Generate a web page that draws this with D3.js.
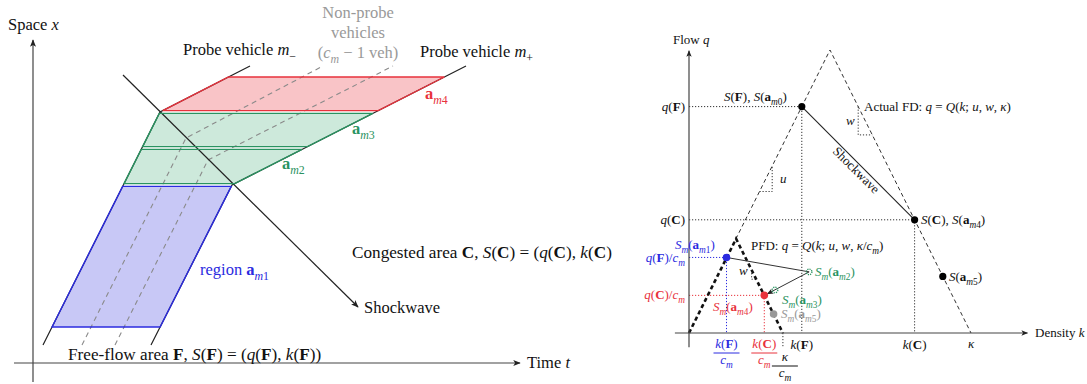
<!DOCTYPE html>
<html><head><meta charset="utf-8">
<script src="https://cdn.jsdelivr.net/npm/d3@7/dist/d3.min.js"></script>
<style>body{margin:0;background:#fff}svg{display:block}text{white-space:pre}</style>
</head><body>
<svg id="c" width="1087" height="384"></svg>
<script>
// ---------- DATA (left: time-space diagram, model units t / x) ----------
const probeMinus = [[10,18],[127,251],[217,297]];
const probePlus  = [[118,18],[199,178],[433,297]];
const nonProbe1  = [[49,18],[153,225],[290,297]];
const nonProbe2  = [[82,18],[175,203],[360,297]];
const shockwave  = [[90,288],[325,56]];
const regionLevels = [36,178,215,251,286];
const regionNames  = ["a1","a2","a3","a4"];
// ---------- DATA (right: fundamental diagram, k / q normalised) ----------
const actualFD = [[0,0],[0.5,1],[1,0]];
const probeFD  = [[0,0],[0.167,0.333],[0.333,0]];
const stateK   = [0.4,0.8,0.9];          // S(F), S(C), S(a_m5)
const stateQ   = [0.8,0.4,0.2];
const probeK   = [0.133,0.426,0.305,0.267,0.3];   // S_m(a_m1..a_m5)
const probeQ   = [0.267,0.216,0.152,0.133,0.067];
const slopeU   = [[0.25,0.5],[0.295,0.5],[0.295,0.59]];
const slopeW   = [[0.6,0.8],[0.6,0.7],[0.65,0.7]];
const slopeWm  = [[0.222,0.222],[0.222,0.19],[0.238,0.19]];

const FONT = "'Liberation Serif','Times New Roman',serif";
const RED='#e8323c', GREEN='#2a9361', BLUE='#2b2be0', GREY='#999';
const svg = d3.select('#c');

const defs = svg.append('defs');
function marker(id, color, size){
  defs.append('marker').attr('id',id).attr('viewBox','-1 -5 12 10')
    .attr('refX',9).attr('refY',0).attr('markerWidth',size).attr('markerHeight',size)
    .attr('markerUnits','userSpaceOnUse').attr('orient','auto')
    .append('path').attr('d','M0,-4 L10,0 L0,4 L2.5,0 Z').attr('fill',color);
}
marker('arr','#222',9); marker('arrS','#222',8);
defs.append('clipPath').attr('id','clipL').append('rect').attr('x',0).attr('y',0).attr('width',612).attr('height',384);

// rich text: *italic*  #bold#  _{sub}
function rich(g, str, x, y, fs, color, anchor){
  const t = g.append('text').attr('x',x).attr('y',y).attr('font-family',FONT)
    .attr('font-size',fs).attr('fill',color||'#111').attr('text-anchor',anchor||'start');
  const segs=[]; let st={i:false,b:false,s:false}, buf='';
  const push=()=>{ if(buf) segs.push({txt:buf,...st}); buf=''; };
  for(let k=0;k<str.length;k++){
    const ch=str[k];
    if(ch==='*'){push(); st.i=!st.i;}
    else if(ch==='#'){push(); st.b=!st.b;}
    else if(ch==='_'&&str[k+1]==='{'){push(); st.s=true; k++;}
    else if(ch==='}'&&st.s){push(); st.s=false;}
    else buf+=ch;
  }
  push();
  let prevSub=false;
  segs.forEach(s=>{
    const sp=t.append('tspan').text(s.txt)
      .attr('font-style',s.i?'italic':'normal').attr('font-weight',s.b?'bold':'normal')
      .attr('font-size',s.s?fs*0.72:fs);
    if(s.s&&!prevSub) sp.attr('dy',fs*0.28);
    if(!s.s&&prevSub) sp.attr('dy',-fs*0.28);
    prevSub=s.s;
  });
  return t;
}

// ================= LEFT =================
const tS = d3.scaleLinear().domain([0,487]).range([33,520]);
const xS = d3.scaleLinear().domain([0,323]).range([363,40]);
const L = svg.append('g').attr('clip-path','url(#clipL)');
const line = d3.line().x(d=>tS(d[0])).y(d=>xS(d[1]));
function tAt(poly,x){
  for(let i=0;i<poly.length-1;i++){
    const a=poly[i],b=poly[i+1];
    if(x>=a[1]&&x<=b[1]) return a[0]+(b[0]-a[0])*(x-a[1])/(b[1]-a[1]);
  }
  return poly[poly.length-1][0];
}
const fills={a1:'#c8c8f6',a2:'#cde9db',a3:'#cde9db',a4:'#f9c4c7'};
const strokes={a1:BLUE,a2:GREEN,a3:GREEN,a4:RED};
const gap=1.4;
const regions = regionNames.map((n,i)=>{
  const lo=regionLevels[i]+(i>0?gap:0), hi=regionLevels[i+1]-(i<regionNames.length-1?gap:0);
  return {n, pts:[[tAt(probeMinus,lo),lo],[tAt(probePlus,lo),lo],[tAt(probePlus,hi),hi],[tAt(probeMinus,hi),hi]]};
});
L.selectAll('path.rf').data(regions).join('path').attr('class','rf')
  .attr('d',d=>line(d.pts)+'Z').attr('fill',d=>fills[d.n]).attr('stroke','none');
[nonProbe1,nonProbe2].forEach(p=>L.append('path').attr('d',line(p)).attr('fill','none')
  .attr('stroke','#8a8a8a').attr('stroke-width',1.1).attr('stroke-dasharray','5,4'));
L.append('path').attr('d',line(shockwave)).attr('stroke','#222').attr('stroke-width',1.2)
  .attr('fill','none').attr('marker-end','url(#arr)');
[probeMinus,probePlus].forEach(p=>L.append('path').attr('d',line(p)).attr('fill','none')
  .attr('stroke','#222').attr('stroke-width',1.2));
L.selectAll('path.rs').data(regions).join('path').attr('class','rs')
  .attr('d',d=>line(d.pts)+'Z').attr('fill','none').attr('stroke',d=>strokes[d.n]).attr('stroke-width',1.4);
// axes
L.append('line').attr('x1',tS(0)).attr('y1',xS(-19)).attr('x2',tS(0)).attr('y2',xS(323))
  .attr('stroke','#444').attr('stroke-width',1.2).attr('marker-end','url(#arr)');
L.append('line').attr('x1',tS(-19)).attr('y1',xS(0)).attr('x2',tS(487)).attr('y2',xS(0))
  .attr('stroke','#444').attr('stroke-width',1.2).attr('marker-end','url(#arr)');
// labels
const fsL=16.5;
rich(L,'Space *x*',8,30,fsL);
rich(L,'Probe vehicle *m*_{−}',183,55,fsL);
rich(L,'Probe vehicle *m*_{+}',420,57,fsL);
rich(L,'Non-probe',358,18,fsL,'#999','middle');
rich(L,'vehicles',358,38,fsL,'#999','middle');
rich(L,'(*c*_{*m*} − 1 veh)',358,58,fsL,'#999','middle');
rich(L,'#a#_{*m*4}',425,99,fsL,RED);
rich(L,'#a#_{*m*3}',352,134,fsL,GREEN);
rich(L,'#a#_{*m*2}',282,169,fsL,GREEN);
rich(L,'region #a#_{*m*1}',200,275,fsL,BLUE);
rich(L,'Congested area #C#, *S*(#C#) = (*q*(#C#), *k*(#C#)',352,258,17.2);
rich(L,'Shockwave',364,313,fsL);
rich(L,'Free-flow area #F#, *S*(#F#) = (*q*(#F#), *k*(#F#))',68,360,17.2);
rich(L,'Time *t*',527,368,fsL);

// ================= RIGHT =================
const kS = d3.scaleLinear().domain([0,1]).range([689,971]);
const qS = d3.scaleLinear().domain([0,1]).range([333,50]);
const R = svg.append('g');
const fl = d3.line().x(d=>kS(d[0])).y(d=>qS(d[1]));
const dotted=(pts,color)=>R.append('path').attr('d',fl(pts)).attr('fill','none')
  .attr('stroke',color||'#333').attr('stroke-width',1).attr('stroke-dasharray','1.2,1.8');
// dotted guides
dotted([[0,stateQ[0]],[stateK[0],stateQ[0]],[stateK[0],0]]);
dotted([[0,stateQ[1]],[stateK[1],stateQ[1]],[stateK[1],0]]);
dotted([[0,probeQ[0]],[probeK[0],probeQ[0]],[probeK[0],0]],BLUE);
dotted([[0,probeQ[3]],[probeK[3],probeQ[3]],[probeK[3],0]],RED);
dotted([[probeFD[2][0],0],[probeFD[2][0],-0.05]]);
dotted(slopeU); dotted(slopeW); dotted(slopeWm);
// FDs
R.append('path').attr('d',fl(actualFD)).attr('fill','none').attr('stroke','#333')
  .attr('stroke-width',1).attr('stroke-dasharray','4,3');
R.append('path').attr('d',fl(probeFD)).attr('fill','none').attr('stroke','#111')
  .attr('stroke-width',2.6).attr('stroke-dasharray','4,3');
// shockwave
R.append('line').attr('x1',kS(stateK[0])).attr('y1',qS(stateQ[0])).attr('x2',kS(stateK[1])).attr('y2',qS(stateQ[1]))
  .attr('stroke','#222').attr('stroke-width',1.1);
// axes
R.append('line').attr('x1',kS(0)).attr('y1',qS(-0.05)).attr('x2',kS(0)).attr('y2',qS(0.997))
  .attr('stroke','#444').attr('stroke-width',1.2).attr('marker-end','url(#arrS)');
R.append('line').attr('x1',kS(-0.05)).attr('y1',qS(0)).attr('x2',kS(1.2)).attr('y2',qS(0))
  .attr('stroke','#444').attr('stroke-width',1.2).attr('marker-end','url(#arrS)');
// probe trajectory of states
R.append('line').attr('x1',kS(probeK[0])).attr('y1',qS(probeQ[0])).attr('x2',kS(probeK[1])).attr('y2',qS(probeQ[1]))
  .attr('stroke','#333').attr('stroke-width',1);
R.append('line').attr('x1',kS(probeK[1])).attr('y1',qS(probeQ[1])).attr('x2',kS(probeK[3])+3).attr('y2',qS(probeQ[3])-1.5)
  .attr('stroke','#333').attr('stroke-width',1).attr('marker-end','url(#arrS)');
// points
stateK.forEach((k,i)=>R.append('circle').attr('cx',kS(k)).attr('cy',qS(stateQ[i])).attr('r',3.6).attr('fill','#000'));
const pcol=[BLUE,null,null,RED,GREY];
probeK.forEach((k,i)=>{
  const c=R.append('circle').attr('cx',kS(k)).attr('cy',qS(probeQ[i]));
  if(pcol[i]) c.attr('r',3.8).attr('fill',pcol[i]);
  else c.attr('r',2.8).attr('fill','none').attr('stroke',GREEN).attr('stroke-width',1.3).attr('stroke-dasharray','1.2,1');
});
// labels
const fsR=13;
rich(R,'Flow *q*',673,44,fsR);
rich(R,'*q*(#F#)',685,111,fsR,'#111','end');
rich(R,'*q*(#C#)',685,224,fsR,'#111','end');
rich(R,'*q*(#F#)/*c*_{*m*}',685,262,fsR,BLUE,'end');
rich(R,'*q*(#C#)/*c*_{*m*}',685,299,fsR,RED,'end');
rich(R,'*S*(#F#), *S*(#a#_{*m*0})',724,101,fsR);
rich(R,'Actual FD: *q* = *Q*(*k*; *u*, *w*, *κ*)',864,111,fsR);
rich(R,'*S*(#C#), *S*(#a#_{*m*4})',921,224,fsR);
rich(R,'*S*(#a#_{*m*5})',949,281,fsR);
rich(R,'PFD: *q* = *Q*(*k*; *u*, *w*, *κ*/*c*_{*m*})',751,250,fsR);
rich(R,'*S*_{*m*}(#a#_{*m*1})',675,249,fsR,BLUE);
rich(R,'*S*_{*m*}(#a#_{*m*2})',815,276,fsR,GREEN);
rich(R,'*S*_{*m*}(#a#_{*m*3})',782,304,fsR,GREEN);
rich(R,'*S*_{*m*}(#a#_{*m*4})',713,311,fsR,RED);
rich(R,'*S*_{*m*}(#a#_{*m*5})',781,318,fsR,GREY);
rich(R,'*u*',780,183,fsR);
rich(R,'*w*',846,125,fsR);
rich(R,'*w*',739,275,fsR);
rich(R,'Density *k*',1035,337,fsR);
rich(R,'*k*(#F#)',kS(stateK[0]),349,fsR,'#111','middle');
rich(R,'*k*(#C#)',kS(stateK[1]),349,fsR,'#111','middle');
rich(R,'*κ*',kS(1),348,fsR,'#111','middle');
function frac(top,x,color,yTop){
  rich(R,top,x,yTop,fsR,color,'middle');
  R.append('line').attr('x1',x-13).attr('x2',x+13).attr('y1',yTop+5).attr('y2',yTop+5).attr('stroke',color).attr('stroke-width',1);
  rich(R,'*c*_{*m*}',x,yTop+16,fsR,color,'middle');
}
frac('*k*(#F#)',kS(probeK[0]),BLUE,348);
frac('*k*(#C#)',kS(probeK[3]),RED,348);
frac('*κ*',kS(probeFD[2][0])+2,'#111',361);
// rotated shockwave label
const mx=(kS(stateK[0])+kS(stateK[1]))/2-5, my=(qS(stateQ[0])+qS(stateQ[1]))/2+10;
R.append('text').attr('transform',`translate(${mx},${my}) rotate(45)`).attr('text-anchor','middle')
  .attr('font-family',FONT).attr('font-size',fsR).attr('fill','#111').text('Shockwave');
</script>
</body></html>
